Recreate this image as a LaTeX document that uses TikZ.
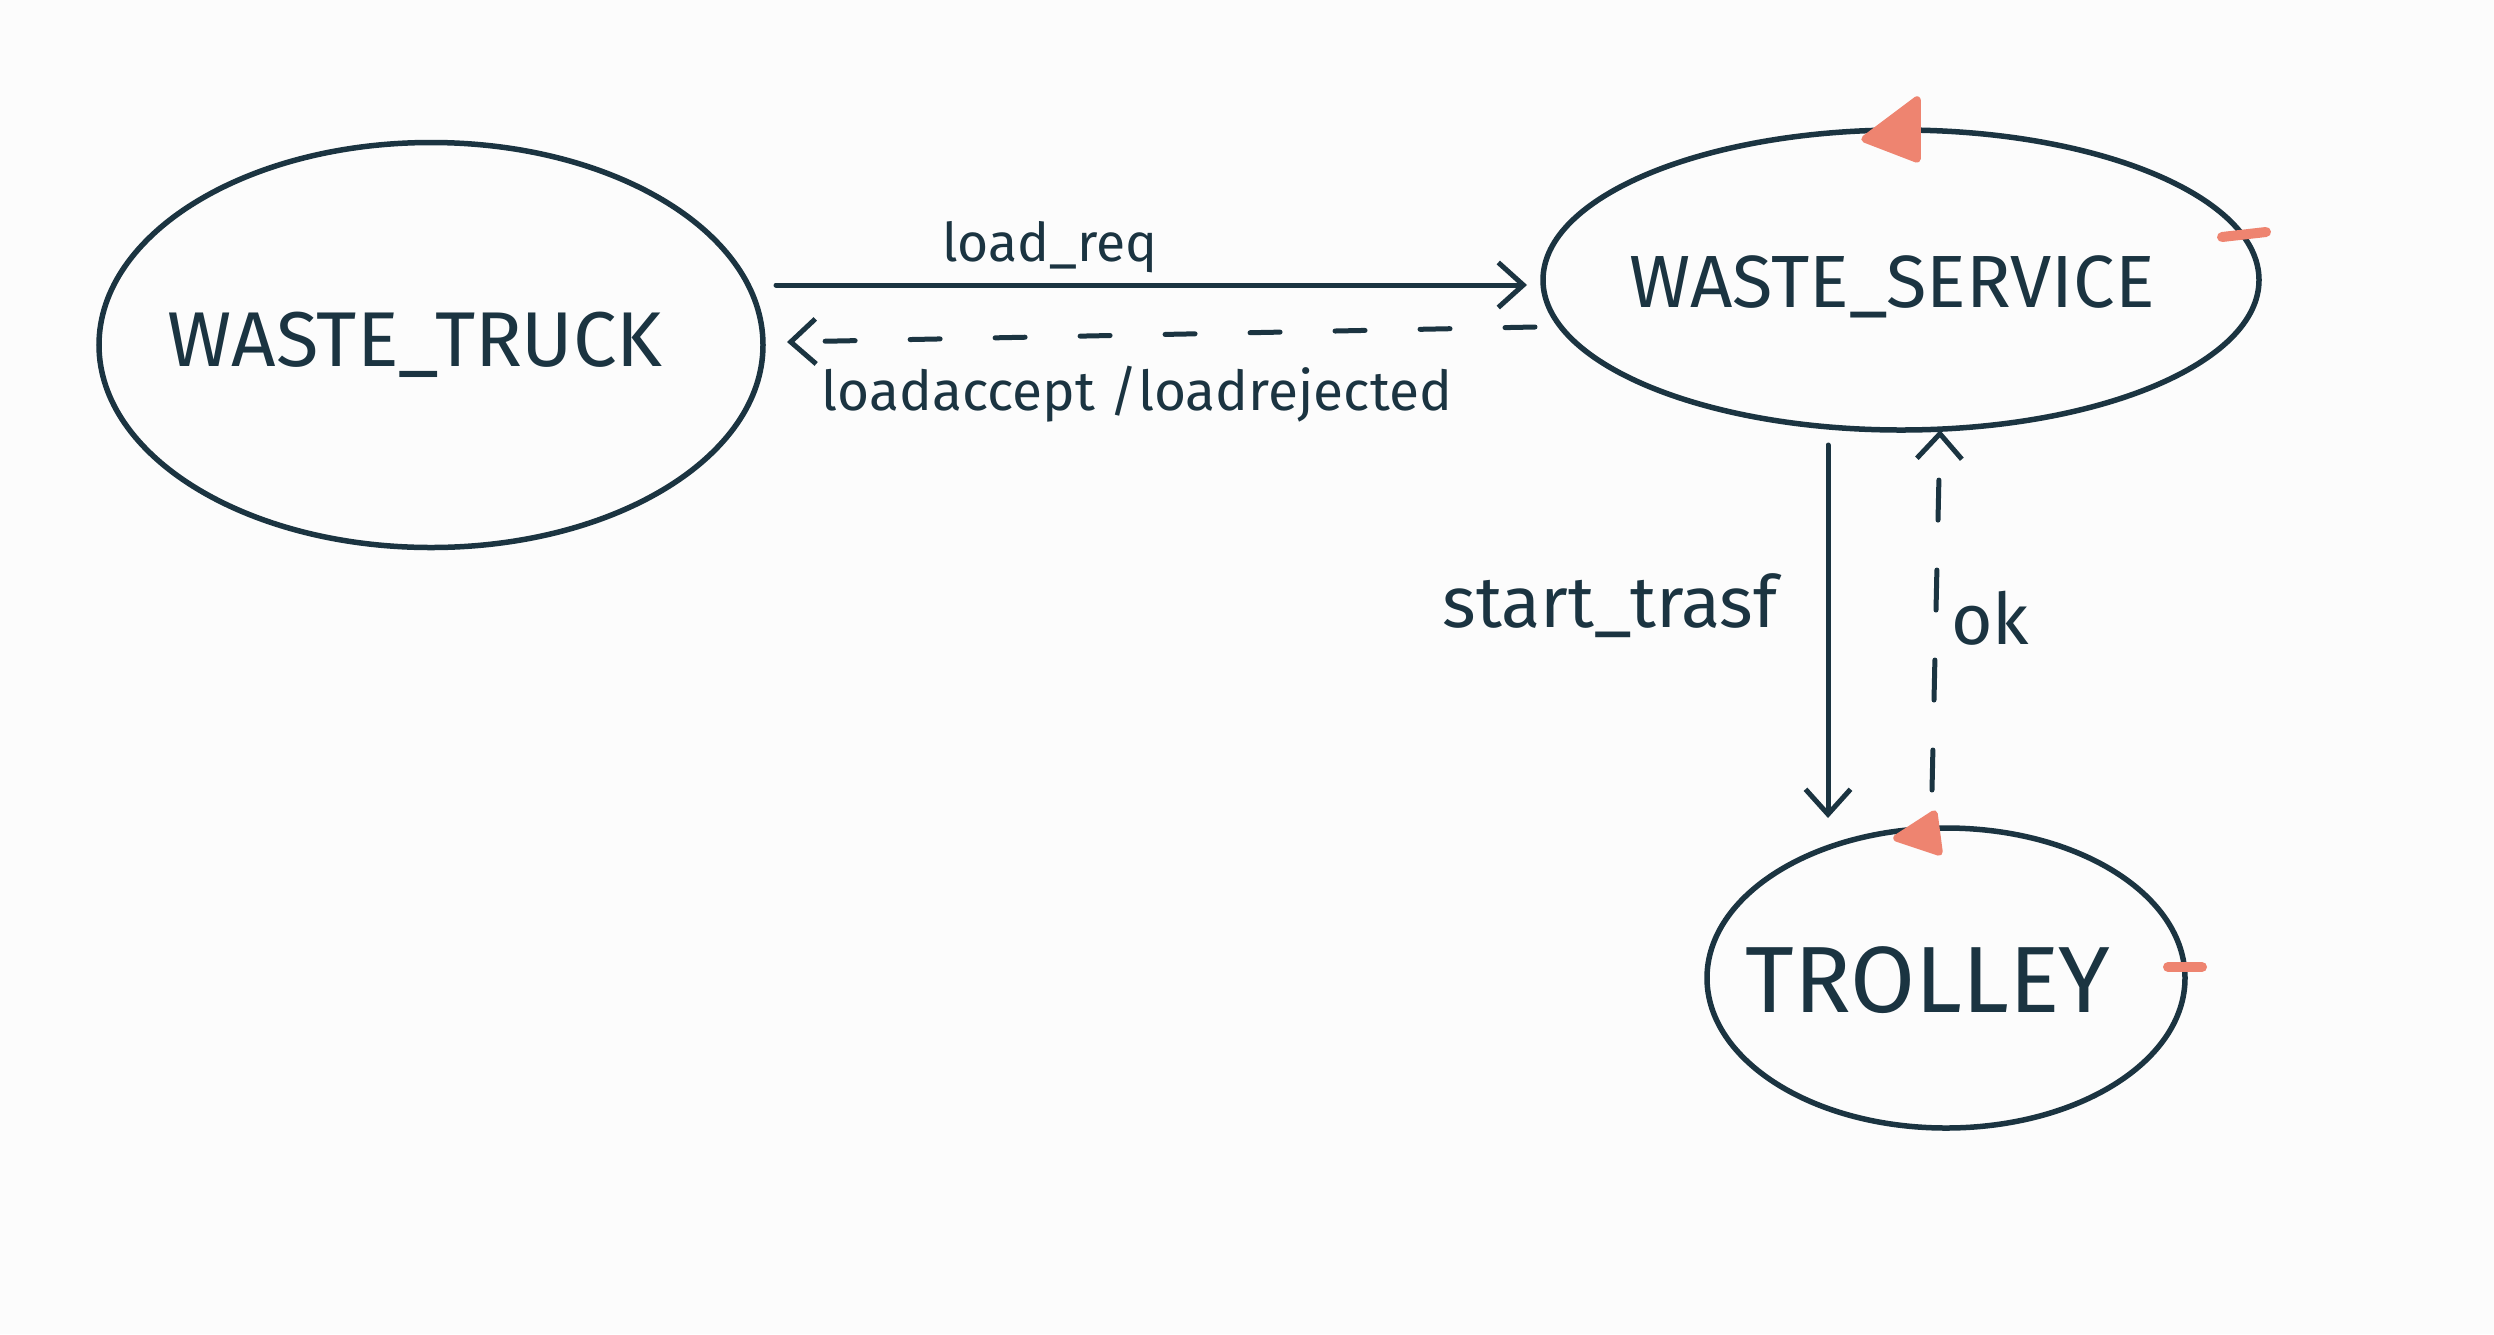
\documentclass[tikz,border=0pt]{standalone}
\usepackage{fontspec}
\setmainfont{Fira Sans}
\usetikzlibrary{arrows.meta,shapes.geometric}
\definecolor{ink}{HTML}{1B3441}
\definecolor{salmon}{HTML}{EE8470}
\definecolor{paper}{HTML}{FCFCFC}
\newcommand{\fitw}[2]{\resizebox{#1}{!}{#2}}
\begin{document}
\begin{tikzpicture}[x=0.2pt,y=-0.2pt,
  state/.style={ellipse,draw=ink,line width=1.1pt,inner sep=0pt,text=ink},
  flow/.style={draw=ink,line width=1pt,line cap=round,-{Straight Barb[length=5pt,width=9pt,line width=1pt]}},
  reply/.style={flow,dash pattern=on 6pt off 11pt},
  lbl/.style={text=ink,inner sep=0pt},
  hlmark/.style={fill=salmon,draw=salmon,line join=round,line width=1.5pt}]
\fill[paper] (0,0) rectangle (2494,1334);
\useasboundingbox (0,0) rectangle (2494,1334);
% states
\node[state,minimum width=132.8pt,minimum height=81pt] (truck) at (431,345) {};
\node[lbl] (truckT) at (415,345) {\fitw{99pt}{WASTE\_TRUCK}};
\node[state,minimum width=143.2pt,minimum height=60pt] (service) at (1901,280) {};
\node[lbl] (serviceT) at (1892,287) {\fitw{105pt}{WASTE\_SERVICE}};
\node[state,minimum width=95.6pt,minimum height=60pt] (trolley) at (1946,978) {};
\node[lbl] (trolleyT) at (1928,980) {\fitw{73pt}{TROLLEY}};
% connector end points
\coordinate (a1) at (776,285);
\coordinate (a2) at (1527,285);
\coordinate (b1) at (1535,327);
\coordinate (b2) at (787,342);
\coordinate (c1) at (1828,445);
\coordinate (c2) at (1828,818);
\coordinate (d1) at (1932,790);
\coordinate (d2) at (1940,430);
\draw[flow] (a1) -- (a2);
\draw[reply] (b1) -- (b2);
\draw[flow] (c1) -- (c2);
\draw[reply,dash pattern=on 8pt off 10pt] (d1) -- (d2);
% labels
\node[lbl] (l1) at (1050,247) {\fitw{43pt}{load\_req}};
\node[lbl] (l2) at (1137,394) {\fitw{126pt}{loadaccept /loadrejected}};
\node[lbl] (l3) at (1610,606) {\fitw{67pt}{start\_trasf}};
\node[lbl] (l4) at (1990,618) {\fitw{15.6pt}{ok}};
% salmon marks
\draw[hlmark] (1917,100) -- (1865,139) -- (1917,159) -- cycle;
\draw[hlmark,line width=2pt,line cap=round] (2222,237) -- (2266,232);
\draw[hlmark] (1934,814) -- (1897,838) -- (1939,852) -- cycle;
\draw[hlmark,line width=2pt,line cap=round] (2168,967) -- (2202,967);
\end{tikzpicture}
\end{document}
